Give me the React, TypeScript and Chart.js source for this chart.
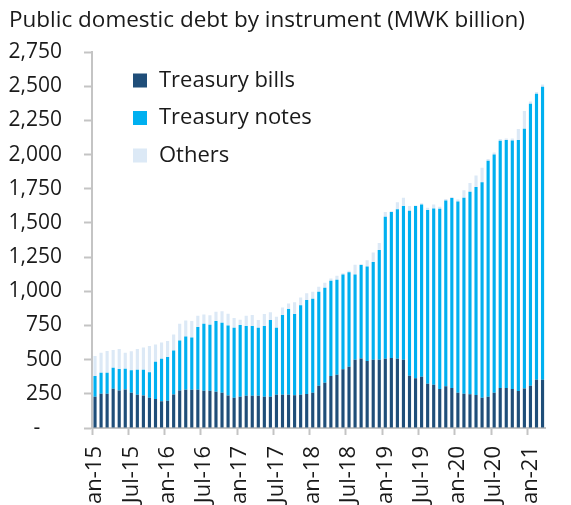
import React, { useEffect, useRef } from "react";
import { Chart, registerables } from "chart.js";

Chart.register(...registerables);

const CATEGORIES: string[] = [
  "Jan-15","Feb-15","Mar-15","Apr-15","May-15","Jun-15","Jul-15","Aug-15","Sep-15","Oct-15","Nov-15","Dec-15",
  "Jan-16","Feb-16","Mar-16","Apr-16","May-16","Jun-16","Jul-16","Aug-16","Sep-16","Oct-16","Nov-16","Dec-16",
  "Jan-17","Feb-17","Mar-17","Apr-17","May-17","Jun-17","Jul-17","Aug-17","Sep-17","Oct-17","Nov-17","Dec-17",
  "Jan-18","Feb-18","Mar-18","Apr-18","May-18","Jun-18","Jul-18","Aug-18","Sep-18","Oct-18","Nov-18","Dec-18",
  "Jan-19","Feb-19","Mar-19","Apr-19","May-19","Jun-19","Jul-19","Aug-19","Sep-19","Oct-19","Nov-19","Dec-19",
  "Jan-20","Feb-20","Mar-20","Apr-20","May-20","Jun-20","Jul-20","Aug-20","Sep-20","Oct-20","Nov-20","Dec-20",
  "Jan-21","Feb-21","Mar-21",
];

const TREASURY_BILLS: number[] = [
  229, 250, 250, 287, 275, 282, 257, 243, 238, 221, 213, 196,
  199, 245, 275, 279, 279, 279, 272, 272, 265, 257, 238, 222,
  228, 236, 236, 236, 229, 229, 244, 244, 244, 239, 244, 249,
  258, 309, 331, 380, 390, 429, 448, 500, 509, 490, 500, 500,
  507, 512, 507, 500, 383, 363, 375, 324, 317, 285, 305, 292,
  258, 251, 246, 241, 222, 229, 258, 292, 292, 285, 271, 288,
  309, 353, 353,
];

const TREASURY_NOTES: number[] = [
  151, 154, 154, 154, 156, 152, 165, 183, 188, 186, 272, 311,
  321, 321, 365, 390, 383, 459, 490, 483, 517, 513, 512, 512,
  526, 510, 510, 497, 517, 561, 489, 582, 626, 594, 653, 687,
  687, 688, 695, 697, 694, 694, 692, 623, 683, 692, 714, 802,
  1038, 1067, 1092, 1123, 1206, 1260, 1260, 1270, 1289, 1319, 1359, 1390,
  1399, 1433, 1482, 1521, 1576, 1726, 1743, 1809, 1814, 1818, 1835, 1900,
  2062, 2091, 2143,
];

const OTHERS: number[] = [
  147, 147, 160, 130, 147, 117, 139, 152, 162, 193, 125, 118,
  117, 118, 122, 118, 120, 83, 69, 69, 68, 83, 86, 71,
  37, 75, 80, 57, 87, 56, 81, 56, 41, 86, 58, 49,
  52, 36, 36, 17, 29, 8, 10, 71, 7, 44, 70, 51,
  34, 7, 53, 61, 34, 5, 8, 17, 29, 14, 10, 7,
  15, 54, 63, 85, 105, 12, 14, 12, 12, 15, 80, 130,
  17, 13, 17,
];

const SERIES_NAMES: string[] = ["Treasury bills", "Treasury notes", "Others"];
const SERIES_COLORS: string[] = ["#1f4e79", "#00b0f0", "#dce9f6"];

const Y_MIN = 0;
const Y_MAX = 2750;
const Y_STEP = 250;
const TITLE = "Public domestic debt by instrument (MWK billion)";

const CANVAS_W = 580;
const CANVAS_H = 520;
const FONT = "'Open Sans', 'Noto Sans', sans-serif";
const AXIS_GRAY = "#c4c4c4";
const TEXT = "#1a1a1a";

export default function App() {
  const ref = useRef<HTMLCanvasElement | null>(null);

  useEffect(() => {
    document.body.style.margin = "0";
    document.body.style.overflow = "hidden";
    const canvas = ref.current;
    if (!canvas) return;

    const annot = {
      id: "annot",
      afterDraw(chart: any) {
        const ctx = chart.ctx as CanvasRenderingContext2D;
        ctx.save();
        ctx.fillStyle = TEXT;
        ctx.font = `22.5px ${FONT}`;
        ctx.textAlign = "left";
        ctx.textBaseline = "alphabetic";
        ctx.fillText(TITLE, 9, 27);
        const rows = [80.5, 118, 155.5];
        chart.data.datasets.forEach((ds: any, i: number) => {
          const y = rows[i];
          ctx.fillStyle = ds.backgroundColor;
          ctx.fillRect(133, y - 7, 14, 14);
          ctx.fillStyle = TEXT;
          ctx.font = `22px ${FONT}`;
          ctx.textBaseline = "middle";
          ctx.fillText(ds.label, 159, y);
        });
        ctx.restore();
      },
    };

    const chart = new Chart(canvas, {
      type: "bar",
      data: {
        labels: CATEGORIES,
        datasets: [
          { label: SERIES_NAMES[0], data: TREASURY_BILLS, backgroundColor: SERIES_COLORS[0] },
          { label: SERIES_NAMES[1], data: TREASURY_NOTES, backgroundColor: SERIES_COLORS[1] },
          { label: SERIES_NAMES[2], data: OTHERS, backgroundColor: SERIES_COLORS[2] },
        ],
      },
      options: {
        responsive: false,
        animation: false,
        devicePixelRatio: 1,
        layout: { padding: { left: 0, top: 52, right: 8, bottom: 0 } },
        datasets: {
          bar: { barPercentage: 0.52, categoryPercentage: 1.0, borderWidth: 0 },
        },
        plugins: {
          legend: { display: false },
          title: { display: false },
          tooltip: { enabled: false },
        },
        scales: {
          x: {
            stacked: true,
            offset: true,
            afterFit: (scale: any) => {
              scale.height = CANVAS_H - 428;
            },
            grid: {
              offset: true,
              drawOnChartArea: false,
              drawTicks: true,
              tickLength: 7,
              tickWidth: 2,
              tickColor: (c: any) => (c.index % 6 === 0 ? AXIS_GRAY : "rgba(0,0,0,0)"),
            },
            border: { display: true, color: AXIS_GRAY, width: 2 },
            ticks: {
              autoSkip: false,
              maxRotation: 90,
              minRotation: 90,
              padding: 11,
              color: TEXT,
              font: { family: FONT, size: 22 },
              callback: (_v: any, i: number) => (i % 6 === 0 ? CATEGORIES[i] : ""),
            },
          },
          y: {
            stacked: true,
            min: Y_MIN,
            max: Y_MAX,
            afterFit: (scale: any) => {
              scale.width = 92;
            },
            grid: {
              drawOnChartArea: false,
              drawTicks: true,
              tickLength: 8,
              tickWidth: 2,
              tickColor: AXIS_GRAY,
            },
            border: { display: true, color: AXIS_GRAY, width: 2 },
            ticks: {
              stepSize: Y_STEP,
              padding: 22,
              color: TEXT,
              font: { family: FONT, size: 21 },
              callback: (v: any) => (Number(v) === 0 ? "-    " : Number(v).toLocaleString("en-US")),
            },
          },
        },
      },
      plugins: [annot],
    });

    return () => chart.destroy();
  }, []);

  return (
    <div style={{ position: "fixed", left: 0, top: 0, width: CANVAS_W, height: CANVAS_H }}>
      <canvas ref={ref} width={CANVAS_W} height={CANVAS_H} style={{ display: "block" }} />
    </div>
  );
}
